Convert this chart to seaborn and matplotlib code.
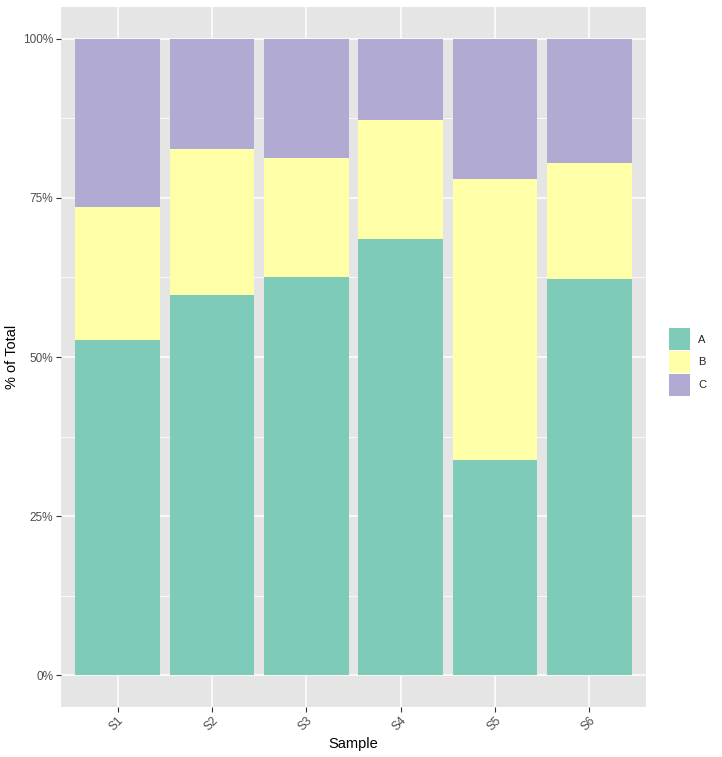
import matplotlib
matplotlib.use("Agg")
import matplotlib.pyplot as plt
import seaborn as sns
import pandas as pd
import numpy as np
from matplotlib.ticker import PercentFormatter, MultipleLocator
from matplotlib.patches import Patch

samples = ["S1", "S2", "S3", "S4", "S5", "S6"]
share_A = [0.526, 0.598, 0.625, 0.686, 0.338, 0.623]
share_B = [0.210, 0.229, 0.187, 0.187, 0.441, 0.182]
share_C = [0.264, 0.173, 0.188, 0.127, 0.221, 0.195]
groups = ["A", "B", "C"]
colors = {"A": "#7ECBBA", "B": "#FFFFA8", "C": "#B1ABD3"}

df = pd.DataFrame({"Sample": samples, "A": share_A, "B": share_B, "C": share_C})
df["top_A"] = df["A"]
df["top_B"] = df["A"] + df["B"]
df["top_C"] = df["A"] + df["B"] + df["C"]

sns.set_theme(style="darkgrid")
plt.rcParams["font.family"] = ["Liberation Sans", "DejaVu Sans"]

fig = plt.figure(figsize=(7.22, 7.57), dpi=100)
ax = fig.add_axes([61/722, 50/757, 585/722, 700/757])
ax.set_facecolor("#E5E5E5")

for g in ["C", "B", "A"]:
    sns.barplot(data=df, x="Sample", y="top_" + g, color=colors[g], width=0.9,
                linewidth=0, saturation=1, ax=ax, zorder=3)

ax.set_xlim(-0.6, 5.6)
ax.set_ylim(-0.05, 1.05)
ax.yaxis.set_major_locator(MultipleLocator(0.25))
ax.yaxis.set_minor_locator(MultipleLocator(0.125))
ax.yaxis.set_major_formatter(PercentFormatter(1.0, decimals=0))
ax.grid(which="major", color="white", linewidth=1.1, zorder=0)
ax.grid(which="minor", axis="y", color="white", linewidth=0.55, zorder=0)
ax.set_axisbelow(True)
for s in ax.spines.values():
    s.set_visible(False)

ax.tick_params(axis="both", which="major", length=3.5, width=0.8, color="#333333",
               labelsize=8.5, labelcolor="#4D4D4D", pad=2, bottom=True, left=True)
ax.tick_params(axis="both", which="minor", length=0)
plt.setp(ax.get_xticklabels(), rotation=45, ha="right", rotation_mode="anchor")

ax.set_xlabel("Sample", fontsize=10.5, color="black", labelpad=3)
ax.set_ylabel("% of Total", fontsize=10.5, color="black", labelpad=3)

handles = [Patch(facecolor=colors[g], edgecolor="none", label=g) for g in groups]
leg = fig.legend(handles=handles, loc="center left", bbox_to_anchor=(669/722, 395/757),
                 frameon=False, fontsize=8, handlelength=1.9, handleheight=2.67,
                 handletextpad=0.7, labelspacing=0.05, borderaxespad=0, borderpad=0)

fig.savefig("out.png", dpi=100)
